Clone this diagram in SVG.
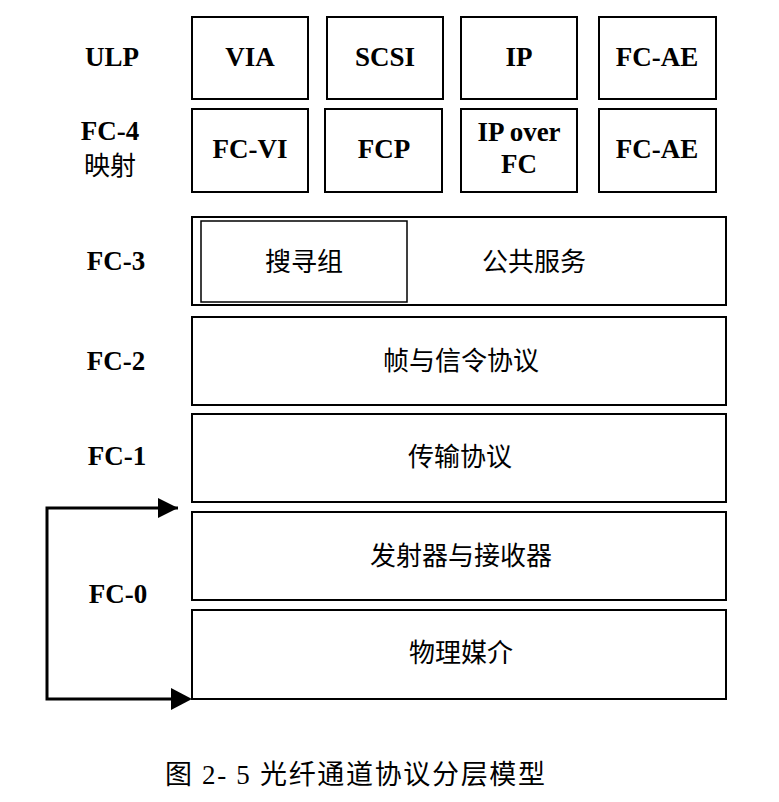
<svg xmlns="http://www.w3.org/2000/svg" width="779" height="802" viewBox="0 0 779 802">
<style>
.box{fill:#fff;stroke:#000;stroke-width:2}
.inner{fill:#fff;stroke:#000;stroke-width:1.5}
.en{font-family:"Times New Roman","Liberation Serif","DejaVu Serif",serif;font-weight:bold;font-size:27px;fill:#000;text-anchor:middle}
.zh{font-family:"Noto Sans CJK SC",sans-serif;font-size:26px;fill:#000;text-anchor:middle}
.cap{font-family:"Times New Roman","Liberation Serif","Noto Sans CJK SC",serif;font-size:27px;fill:#000}
.conn{fill:none;stroke:#000;stroke-width:3}
</style>
<rect width="779" height="802" fill="#fff"/>
<g id="labels">
<text class="en" x="112" y="66">ULP</text>
<text class="en" x="110" y="140">FC-4</text>
<text class="zh" x="110" y="175">映射</text>
<text class="en" x="116" y="270">FC-3</text>
<text class="en" x="116" y="370">FC-2</text>
<text class="en" x="117" y="465">FC-1</text>
<text class="en" x="118" y="603">FC-0</text>
</g>
<g id="via"><rect class="box" x="192" y="17" width="116" height="82"/><text class="en" x="250" y="66">VIA</text></g>
<g id="scsi"><rect class="box" x="327" y="17" width="116" height="82"/><text class="en" x="385" y="66">SCSI</text></g>
<g id="ip"><rect class="box" x="461" y="17" width="116" height="82"/><text class="en" x="519" y="66">IP</text></g>
<g id="fcae1"><rect class="box" x="599" y="17" width="117" height="82"/><text class="en" x="657" y="66">FC-AE</text></g>
<g id="fcvi"><rect class="box" x="192" y="109" width="116" height="83"/><text class="en" x="250" y="158">FC-VI</text></g>
<g id="fcp"><rect class="box" x="325" y="109" width="117" height="83"/><text class="en" x="384" y="158">FCP</text></g>
<g id="ipoverfc"><rect class="box" x="461" y="109" width="116" height="83"/><text class="en" x="519" y="141">IP over</text><text class="en" x="519" y="173">FC</text></g>
<g id="fcae2"><rect class="box" x="599" y="109" width="117" height="83"/><text class="en" x="657" y="158">FC-AE</text></g>
<g id="fc3"><rect class="box" x="192" y="217" width="534" height="88"/>
<rect class="inner" x="201" y="221" width="206" height="81"/>
<text class="zh" x="304" y="271">搜寻组</text>
<text class="zh" x="534" y="271">公共服务</text></g>
<g id="fc2"><rect class="box" x="192" y="317" width="534" height="88"/><text class="zh" x="461" y="370">帧与信令协议</text></g>
<g id="fc1"><rect class="box" x="192" y="414" width="534" height="88"/><text class="zh" x="460" y="466">传输协议</text></g>
<g id="txrx"><rect class="box" x="192" y="512" width="534" height="88"/><text class="zh" x="461" y="565">发射器与接收器</text></g>
<g id="media"><rect class="box" x="192" y="610" width="534" height="89"/><text class="zh" x="461" y="662">物理媒介</text></g>
<g id="connectors">
<path class="conn" d="M178,508 H47 V699 H178"/>
<polygon points="178,508 158,498 158,518" fill="#000"/>
<polygon points="192,699 171,688 171,710" fill="#000"/>
</g>
<text class="cap" x="165" y="784" textLength="380" lengthAdjust="spacing">图 2- 5 光纤通道协议分层模型</text>
</svg>
